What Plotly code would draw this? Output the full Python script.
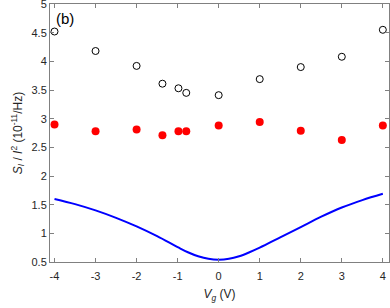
import plotly.graph_objects as go

vg_pts = [-4, -3, -2, -1.37, -0.98, -0.79, 0, 1, 2, 3, 4]
open_vals = [4.52, 4.18, 3.92, 3.61, 3.53, 3.45, 3.41, 3.69, 3.90, 4.08, 4.55]
red_vals = [2.90, 2.78, 2.81, 2.71, 2.78, 2.78, 2.88, 2.94, 2.79, 2.63, 2.88]

vg_line = [-4, -3.5, -3, -2.5, -2, -1.5, -1, -0.75, -0.5, -0.25, 0, 0.25, 0.5, 0.75, 1, 1.5, 2, 2.5, 3, 3.5, 4]
line_vals = [1.60, 1.51, 1.40, 1.27, 1.12, 0.95, 0.76, 0.67, 0.60, 0.555, 0.54, 0.555, 0.60, 0.67, 0.75, 0.93, 1.11, 1.29, 1.45, 1.58, 1.69]

x_ticks = [-4, -3, -2, -1, 0, 1, 2, 3, 4]
y_ticks = [0.5, 1, 1.5, 2, 2.5, 3, 3.5, 4, 4.5, 5]

fig = go.Figure()
fig.add_trace(go.Scatter(x=vg_line, y=line_vals, mode="lines",
                         line=dict(color="#0000ff", width=2, shape="spline"), showlegend=False))
fig.add_trace(go.Scatter(x=vg_pts, y=open_vals, mode="markers",
                         marker=dict(symbol="circle-open", size=7, color="#000000", line=dict(width=1)),
                         showlegend=False))
fig.add_trace(go.Scatter(x=vg_pts, y=red_vals, mode="markers",
                         marker=dict(symbol="circle", size=8, color="#ff0000"), showlegend=False))

axis_common = dict(showline=True, linecolor="#808080", linewidth=1, mirror="ticks",
                   ticks="inside", ticklen=4, tickcolor="#808080", showgrid=False, zeroline=False,
                   automargin=False, ticklabeloverflow="allow",
                   tickfont=dict(family="Liberation Sans, Arial", size=11, color="#262626"))

fig.update_xaxes(range=[-4.11, 4.15], tickvals=x_ticks, ticktext=[str(t) for t in x_ticks],
                 ticklabelstandoff=4,
                 title=dict(text="<i>V</i><sub><i>g</i></sub> (V)", standoff=8,
                            font=dict(family="Liberation Sans, Arial", size=12, color="#262626")),
                 **axis_common)
fig.update_yaxes(range=[0.5, 5], tickvals=y_ticks, ticktext=[f"{t:g}" for t in y_ticks],
                 title=dict(text="<i>S</i><sub><i>I</i></sub> / <i>I</i><sup>2</sup> (10<sup>-11</sup>/Hz)",
                            standoff=6,
                            font=dict(family="Liberation Sans, Arial", size=12, color="#262626")),
                 **axis_common)

fig.add_annotation(x=0.012, y=0.985, xref="paper", yref="paper", text="(b)", showarrow=False,
                   xanchor="left", yanchor="top",
                   font=dict(family="Liberation Sans, Arial", size=15, color="#000000"))

fig.update_layout(width=390, height=308, margin=dict(l=50, r=1, t=4, b=46),
                  plot_bgcolor="white", paper_bgcolor="white")

fig.write_html("out.html", config={"displayModeBar": False},
               post_script="document.body.style.margin='0';document.body.style.overflow='hidden';")
